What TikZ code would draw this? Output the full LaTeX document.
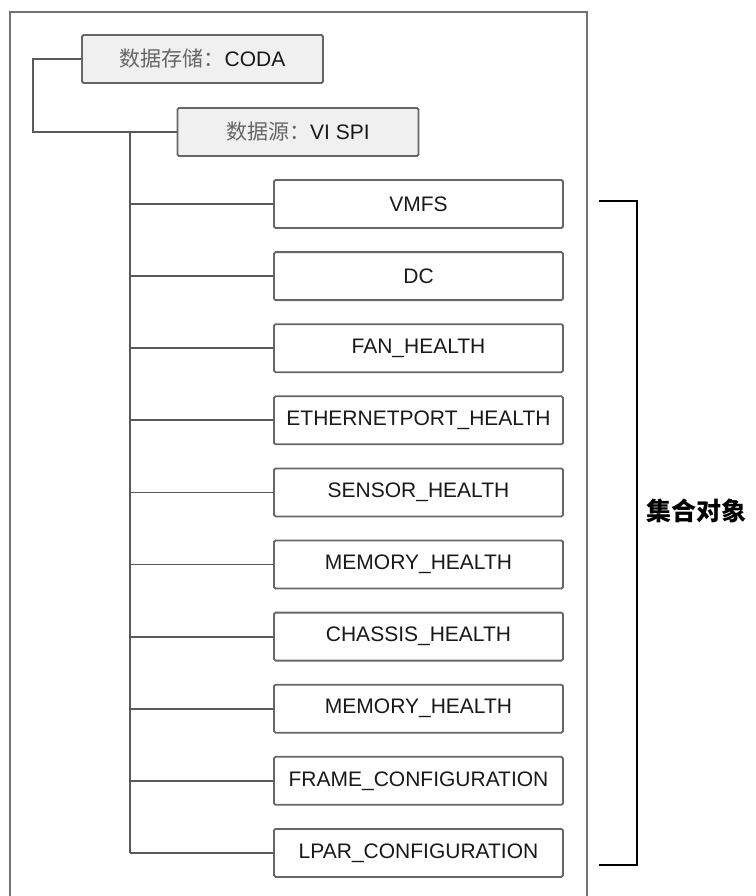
\documentclass[tikz,border=0pt]{standalone}
\usepackage{fontspec}
\setmainfont{Liberation Sans}
\newfontfamily\cjk{Noto Sans CJK SC}
\begin{document}
\begin{tikzpicture}[x=1pt,y=-1pt,
  box/.style={draw=black!60,line width=1.8pt,rounded corners=1.5pt,minimum height=48pt,
    inner sep=0pt,font=\fontsize{21}{25}\selectfont,text=black!90},
  topbox/.style={box,fill=black!6,minimum width=241pt},
  itembox/.style={box,fill=white,minimum width=289pt},
  link/.style={draw=black!65,line width=1.8pt}]
\useasboundingbox (0,0) rectangle (755,896);
% outer frame (open at the bottom)
\draw[black!55,line width=2.6pt] (10,896) -- (10,12) -- (587,12) -- (587,896);

% data store and data source
\node[topbox] (coda) at (202.5,59) {{\cjk\color{black!60}数据存储：}CODA};
\node[topbox] (vispi) at (298,132) {{\cjk\color{black!60}数据源：}VI SPI};
\coordinate (rootbus) at (33,0);
\draw[link] (coda.west) -- (coda.west -| rootbus) |- (vispi.west);

% collected objects
\coordinate (bus) at (130,0);
\foreach \i/\name in {1/VMFS,2/DC,3/FAN\_HEALTH,4/ETHERNETPORT\_HEALTH,5/SENSOR\_HEALTH,
    6/MEMORY\_HEALTH,7/CHASSIS\_HEALTH,8/MEMORY\_HEALTH,9/FRAME\_CONFIGURATION,
    10/LPAR\_CONFIGURATION}{
  \node[itembox] (item\i) at (418.5,{204+72.1*(\i-1)}) {\name};
  \draw[link] (bus |- item\i.west) -- (item\i.west);
}
\draw[link] (bus |- vispi.west) -- (bus |- item10.west);

% bracket
\coordinate (brtop) at (599,201);
\coordinate (brbot) at (599,865);
\draw[black,line width=2.4pt] (brtop) -- ++(38,0) |- (brbot);
\node[font=\fontsize{25}{30}\selectfont] (setname) at (696,511) {\cjk\bfseries 集合对象};
\end{tikzpicture}
\end{document}
